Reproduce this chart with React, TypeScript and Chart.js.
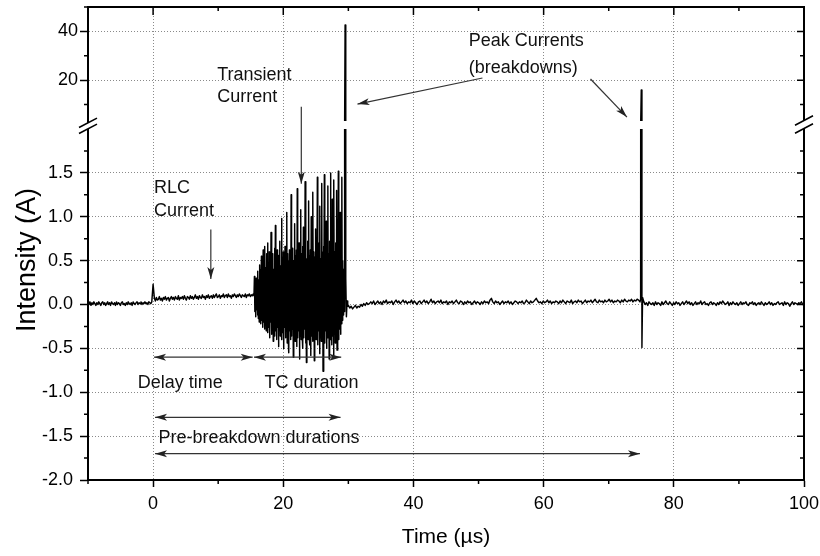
import { useEffect, useRef } from 'react';
import { Chart, registerables } from 'chart.js';

Chart.register(...registerables);

const FONT = '"Liberation Sans", Arial, Helvetica, sans-serif';

// ---------- axes ----------
const X_MIN = -10;
const X_MAX = 100;
const xTicks = [-10, 0, 10, 20, 30, 40, 50, 60, 70, 80, 90, 100];
const xLabels = [0, 20, 40, 60, 80, 100];
const xGrid = [0, 20, 40, 60, 80];

const LOWER_MIN = -2;
const LOWER_MAX = 2;
const lowerTicks = [-2, -1.75, -1.5, -1.25, -1, -0.75, -0.5, -0.25, 0, 0.25, 0.5, 0.75, 1, 1.25, 1.5, 1.75];
const lowerLabels = [-2, -1.5, -1, -0.5, 0, 0.5, 1, 1.5];
const lowerGrid = [-1.5, -1, -0.5, 0, 0.5, 1, 1.5];

const UPPER_MIN = 0;
const UPPER_MAX = 50;
const upperTicks = [10, 20, 30, 40, 50];
const upperLabels = [20, 40];
const upperGrid = [20, 40];
const UPPER_VISIBLE_FROM = 3.3; // values below are hidden in the axis break

// ---------- trace (current, A) ----------
const CENTI = 0.01;

// -10 .. -0.2 µs (hundredths of A)
const preTriggerCentiA = [2, 0, 3, -1, 2, 0, 3, 1, -1, 2, 0, 3, 1, -1, 2, 3, 0, 2, -1, 1, 3, 0, 2, -1, 3, 1, 0, 2, -1, 3, 0, 2, 1, -1, 2, 3, 0, 1, -1, 2, 0, 3, 1, 0, 2, -1, 3, 1, 0, 2, 3, 0, 2, 1, 3, 0, 2, 1, 3, 1, 2, 0, 3, 2, 1, 3];

const triggerTimes = [0];
const triggerA = [0.23];

// 0.2 .. 15.4 µs  (RLC current)
const rlcCentiA = [7, 4, 8, 5, 6, 9, 5, 7, 4, 8, 6, 9, 5, 7, 8, 4, 7, 9, 6, 8, 5, 9, 7, 6, 10, 5, 8, 7, 9, 6, 10, 7, 5, 9, 8, 6, 10, 7, 9, 6, 8, 11, 7, 9, 6, 10, 8, 7, 11, 8, 9, 6, 10, 8, 11, 7, 9, 10, 7, 11, 8, 10, 12, 8, 9, 11, 7, 10, 9, 12, 8, 10, 11, 8, 12, 9, 10, 7, 11, 9, 12, 10, 8, 11, 9, 12, 10, 8, 11, 10, 9, 12, 8, 11, 10, 12, 9, 11, 10, 12];

// 15.5 .. 29.4 µs  (transient current)
const transientCentiA = [
  10, 32, -8, 26, -14, 30, -6, 22, -12, 38, -16, 28, -20, 45, -10, 40, -22, 55, -18, 36, -26, 62, -20, 48, -28, 66, -24, 42, -30, 58,
  -22, 70, -32, 48, -26, 60, -38, 44, -20, 82, -34, 52, -28, 58, -42, 40, -24, 64, -36, 90, -30, 50, -40, 62, -26, 46, -48, 56, -30, 72, -36, 44, -28, 98, -40, 54, -32, 60, -50, 48, -26, 66, -38, 52, -30, 105, -44, 58, -34, 50, -55, 62,
  -30, 46, -40, 125, -36, 58, -28, 64, -60, 50, -34, 92, -42, 56, -30, 62, -48, 132, -38, 52, -30, 70, -62, 48, -36, 108, -40, 58, -32, 66, -50, 88, -38, 54, -28, 140, -44, 60, -66, 52, -34, 72, -40, 118, -30, 56, -46, 62, -58, 100, -36, 50, -42, 128, -32, 60, -64, 54, -38, 86,
  -40, 58, -34, 145, -46, 62, -30, 70, -56, 112, -38, 52, -42, 138, -32, 60, -76, 66, -36, 148, -44, 54, -30, 95, -50, 62, -38, 135, -34, 58, -62, 72, -40, 150, -30, 64, -46, 120, -36, 56, -58, 142, -32, 60, -44, 70, -38, 130, -52, 62, -30, 152, -40, 58, -28, 105, -34, 60, -22, 145, -18, 50, -12, 40, -8, 30,
];

// first breakdown
const peak1Times = [29.45, 29.5, 29.6, 29.7, 29.8, 29.9];
const peak1A = [0.6, 42.6, 0.3, -0.14, 0.04, -0.02];

// 30.0 .. 74.8 µs
const postCentiA = [
  -1, -4, -2, -5, -3, -1, -4, -2, -3, 0, -2, 1, -1, 2, 0, 1,
  3, 1, 4, 0, 2, 4, 1, 3, 0, 4, 2, 5, 1, 3, 2, 4, 0, 3, 5, 2, 4, 1, 3, 5, 2, 4, 1, 3, 2, 5, 1, 4, 2, 0, 3, 4, 1, 3, 5, 2, 4, 1, 3, 6, 2, 4, 1, 3, 4, 2, 5, 1, 3, 2, 4, 0, 3, 2, 4, 1, 3, 5, 2, 1, 4, 3, 0, 3, 1, 4, 2, 3, 0, 2, 4, 1, 3, 2, 0, 3, 1, 4, 2, 3, 1, 5, 7, 3, 1, 4, 2, 3, 0, 2, 4, 1, 3, 2, 4, 1, 3, 0, 2, 4, 3, 1, 3, 2, 4, 1, 2, 5, 3, 1, 4, 2, 3, 5, 7, 4, 2, 3, 1, 4, 2, 3, 5, 2, 4, 1, 3, 2, 4, 3, 1, 4, 2, 5, 3, 1, 4, 3, 2, 5, 1, 3, 4, 2, 5, 3, 4, 1, 3, 5, 2, 4, 3, 5, 2, 4, 6, 3, 2, 5, 3, 4, 2, 5, 3, 4, 6, 3, 5, 2, 4, 3, 5, 4, 2, 5, 3, 6, 4, 3, 5, 4, 6, 3, 5, 4, 6, 5, 3,
];

// second breakdown
const peak2Times = [74.9, 75.0, 75.1, 75.2];
const peak2A = [0.06, 16.0, -0.49, 0.08];

// 75.4 .. 100 µs
const tailCentiA = [3, 0, 2, -1, 3, 1, 0, 2, -1, 3, 0, 2, 1, -1, 3, 0, 2, 4, 1, 0, 3, 1, -1, 2, 0, 3, 1, 2, -1, 1, 3, 0, 2, 4, 1, 3, 0, 2, -1, 1, 3, 0, 2, 1, 4, 0, 2, 3, 0, 1, -1, 2, 3, 0, 2, 1, -1, 2, 0, 3, 1, 4, 2, 0, 1, 3, -1, 2, 0, 3, 1, 0, 2, -1, 1, 3, 0, 2, 1, 3, 0, -1, 2, 1, 3, 0, 2, -1, 1, 2, 0, 3, 1, -1, 2, 0, 1, 3, 0, 2, -1, 1, 0, 2, 3, 0, 1, 2, -1, 3, 0, 2, 1, -2, 1, 3, 0, 2, 1, 0, 2, 1, 3, 0, 1];

// ---------- annotations ----------
type AxisId = 'y' | 'y2';
const noteTexts: { text: string; t: number; axis: AxisId; v: number }[] = [
  { text: 'RLC', t: 0.15, axis: 'y', v: 1.275 },
  { text: 'Current', t: 0.15, axis: 'y', v: 1.01 },
  { text: 'Transient', t: 9.85, axis: 'y2', v: 20.1 },
  { text: 'Current', t: 9.85, axis: 'y2', v: 11.2 },
  { text: 'Peak Currents', t: 48.5, axis: 'y2', v: 34.0 },
  { text: '(breakdowns)', t: 48.5, axis: 'y2', v: 23.0 },
  { text: 'Delay time', t: -2.35, axis: 'y', v: -0.95 },
  { text: 'TC duration', t: 17.1, axis: 'y', v: -0.95 },
  { text: 'Pre-breakdown durations', t: 0.82, axis: 'y', v: -1.575 },
];

const noteArrows: { t0: number; a0: AxisId; v0: number; t1: number; a1: AxisId; v1: number; both: boolean }[] = [
  { t0: 8.87, a0: 'y', v0: 0.854, t1: 8.87, a1: 'y', v1: 0.29, both: false },
  { t0: 22.77, a0: 'y2', v0: 9.1, t1: 22.77, a1: 'y', v1: 1.375, both: false },
  { t0: 50.6, a0: 'y2', v0: 20.9, t1: 31.4, a1: 'y2', v1: 10.2, both: false },
  { t0: 67.2, a0: 'y2', v0: 20.5, t1: 72.8, a1: 'y2', v1: 4.9, both: false },
  { t0: 0.15, a0: 'y', v0: -0.6, t1: 15.3, a1: 'y', v1: -0.6, both: true },
  { t0: 15.5, a0: 'y', v0: -0.6, t1: 28.9, a1: 'y', v1: -0.6, both: true },
  { t0: 0.3, a0: 'y', v0: -1.286, t1: 28.8, a1: 'y', v1: -1.286, both: true },
  { t0: 0.3, a0: 'y', v0: -1.7, t1: 74.8, a1: 'y', v1: -1.7, both: true },
];

// ---------- helpers ----------
type Pt = { x: number; y: number };
function sampled(t0: number, t1: number, values: number[], unit: number): Pt[] {
  const n = values.length;
  return values.map((v, i) => ({ x: n > 1 ? t0 + ((t1 - t0) * i) / (n - 1) : t0, y: v * unit }));
}
function paired(times: number[], values: number[]): Pt[] {
  return times.map((t, i) => ({ x: t, y: values[i] }));
}

const trace: Pt[] = [
  ...sampled(-10, -0.2, preTriggerCentiA, CENTI),
  ...paired(triggerTimes, triggerA),
  ...sampled(0.2, 15.4, rlcCentiA, CENTI),
  ...sampled(15.5, 29.4, transientCentiA, CENTI),
  ...paired(peak1Times, peak1A),
  ...sampled(30.0, 74.8, postCentiA, CENTI),
  ...paired(peak2Times, peak2A),
  ...sampled(75.4, 100, tailCentiA, CENTI),
];

const GRID = '#8a8a8a';
const CLEAR = 'rgba(0,0,0,0)';
const INK = '#000';

const segmentClip = {
  id: 'segmentClip',
  beforeDatasetDraw(chart: any, args: any) {
    const ds = chart.data.datasets[args.index];
    const ys = chart.scales[ds.yAxisID];
    const { left, right } = chart.chartArea;
    let top: number;
    let bottom: number;
    if (ds.yAxisID === 'y2') {
      top = ys.top;
      bottom = ys.getPixelForValue(UPPER_VISIBLE_FROM);
    } else {
      top = ys.getPixelForValue(LOWER_MAX);
      bottom = ys.bottom;
    }
    const ctx = chart.ctx;
    ctx.save();
    ctx.beginPath();
    ctx.rect(left, top, right - left, bottom - top);
    ctx.clip();
  },
  afterDatasetDraw(chart: any) {
    chart.ctx.restore();
  },
};

function arrowHead(ctx: CanvasRenderingContext2D, x: number, y: number, ang: number) {
  const len = 12;
  const half = 3.5;
  const notch = 3;
  ctx.save();
  ctx.translate(x, y);
  ctx.rotate(ang);
  ctx.beginPath();
  ctx.moveTo(0, 0);
  ctx.lineTo(-len, -half);
  ctx.lineTo(-len + notch, 0);
  ctx.lineTo(-len, half);
  ctx.closePath();
  ctx.fill();
  ctx.restore();
}

const decorations = {
  id: 'decorations',
  afterDraw(chart: any) {
    const ctx: CanvasRenderingContext2D = chart.ctx;
    const { left, right, top, bottom } = chart.chartArea;
    const sx = chart.scales.x;
    const sy = chart.scales.y;
    const sy2 = chart.scales.y2;
    ctx.save();
    ctx.strokeStyle = INK;
    ctx.lineCap = 'butt';

    // frame (top & right)
    ctx.lineWidth = 2;
    ctx.beginPath();
    ctx.moveTo(left - 1, top);
    ctx.lineTo(right, top);
    ctx.lineTo(right, bottom + 1);
    ctx.stroke();

    // ticks
    ctx.lineWidth = 1.5;
    ctx.beginPath();
    for (const v of xTicks) {
      const px = sx.getPixelForValue(v);
      const major = xLabels.includes(v);
      ctx.moveTo(px, top);
      ctx.lineTo(px, top + (major ? 8 : 4));
      if (!major) {
        ctx.moveTo(px, bottom);
        ctx.lineTo(px, bottom + 4);
      }
    }
    const yAll: [any, number, boolean][] = [
      ...lowerTicks.map((v) => [sy, v, lowerLabels.includes(v)] as [any, number, boolean]),
      ...upperTicks.map((v) => [sy2, v, upperLabels.includes(v)] as [any, number, boolean]),
    ];
    for (const [s, v, major] of yAll) {
      const py = s.getPixelForValue(v);
      ctx.moveTo(right, py);
      ctx.lineTo(right - (major ? 7 : 4), py);
      if (!major) {
        ctx.moveTo(left, py);
        ctx.lineTo(left - 4, py);
      }
    }
    ctx.stroke();

    // axis breaks
    const boundary = sy.top;
    const breaks: [number, number, number][] = [
      [left, boundary - 3.2, 6],
      [right, boundary - 4.5, 8],
    ];
    for (const [cx, cy, d] of breaks) {
      const hx = 9;
      const k = 0.52;
      ctx.fillStyle = '#fff';
      ctx.beginPath();
      ctx.moveTo(cx - hx, cy + d / 2 + hx * k);
      ctx.lineTo(cx + hx, cy + d / 2 - hx * k);
      ctx.lineTo(cx + hx, cy - d / 2 - hx * k);
      ctx.lineTo(cx - hx, cy - d / 2 + hx * k);
      ctx.closePath();
      ctx.fill();
      ctx.lineWidth = 1.6;
      ctx.beginPath();
      ctx.moveTo(cx - hx, cy + d / 2 + hx * k);
      ctx.lineTo(cx + hx, cy + d / 2 - hx * k);
      ctx.moveTo(cx - hx, cy - d / 2 + hx * k);
      ctx.lineTo(cx + hx, cy - d / 2 - hx * k);
      ctx.stroke();
    }

    // arrows
    ctx.strokeStyle = '#333';
    ctx.fillStyle = '#222';
    ctx.lineWidth = 1.2;
    for (const a of noteArrows) {
      const x0 = sx.getPixelForValue(a.t0);
      const y0 = chart.scales[a.a0].getPixelForValue(a.v0);
      const x1 = sx.getPixelForValue(a.t1);
      const y1 = chart.scales[a.a1].getPixelForValue(a.v1);
      ctx.beginPath();
      ctx.moveTo(x0, y0);
      ctx.lineTo(x1, y1);
      ctx.stroke();
      const ang = Math.atan2(y1 - y0, x1 - x0);
      arrowHead(ctx, x1, y1, ang);
      if (a.both) arrowHead(ctx, x0, y0, ang + Math.PI);
    }

    // annotation texts
    ctx.fillStyle = '#111';
    ctx.font = `18px ${FONT}`;
    ctx.textAlign = 'left';
    ctx.textBaseline = 'alphabetic';
    for (const n of noteTexts) {
      ctx.fillText(n.text, sx.getPixelForValue(n.t), chart.scales[n.axis].getPixelForValue(n.v));
    }

    // y axis title
    ctx.save();
    ctx.font = `27px ${FONT}`;
    ctx.fillStyle = '#000';
    ctx.textAlign = 'center';
    ctx.translate(35, (top + bottom) / 2 + 16.5);
    ctx.rotate(-Math.PI / 2);
    ctx.fillText('Intensity (A)', 0, 0);
    ctx.restore();

    ctx.restore();
  },
};

export default function App() {
  const ref = useRef<HTMLCanvasElement>(null);

  useEffect(() => {
    const canvas = ref.current;
    if (!canvas) return;

    const lineStyle = {
      borderColor: '#000',
      borderWidth: 1.45,
      borderJoinStyle: 'round',
      pointRadius: 0,
      tension: 0,
      fill: false,
    };

    const tickFont = { family: FONT, size: 18 };

    const chart = new Chart(canvas, {
      type: 'line',
      data: {
        datasets: [
          { ...lineStyle, data: trace, xAxisID: 'x', yAxisID: 'y' },
          { ...lineStyle, data: trace, xAxisID: 'x', yAxisID: 'y2' },
        ],
      },
      options: {
        animation: false,
        responsive: false,
        events: [],
        layout: { padding: { left: 0, top: 7, right: 16, bottom: 0 } },
        plugins: { legend: { display: false }, tooltip: { enabled: false } },
        scales: {
          x: {
            type: 'linear',
            position: 'bottom',
            min: X_MIN,
            max: X_MAX,
            afterBuildTicks: (s: any) => {
              s.ticks = xTicks.map((value) => ({ value }));
            },
            afterFit: (s: any) => {
              s.height = 76;
              s.paddingLeft = 0;
              s.paddingRight = 0;
            },
            ticks: {
              autoSkip: false,
              maxRotation: 0,
              padding: 6,
              color: '#000',
              font: tickFont,
              callback: (v: any) => (xLabels.includes(v) ? String(v) : ''),
            },
            grid: {
              color: (c: any) => (c.tick && xGrid.includes(c.tick.value) ? GRID : CLEAR),
              tickColor: (c: any) => (c.tick && xLabels.includes(c.tick.value) ? INK : CLEAR),
              lineWidth: 1,
              tickWidth: 1.5,
              tickLength: 7,
            },
            border: { display: true, color: INK, width: 2, dash: [1, 2] },
            title: {
              display: true,
              text: 'Time (µs)',
              color: '#000',
              font: { family: FONT, size: 21 },
              padding: { top: 0, bottom: 6 },
            },
          },
          y: {
            type: 'linear',
            position: 'left',
            stack: 'amp',
            stackWeight: 351,
            weight: 1,
            min: LOWER_MIN,
            max: LOWER_MAX,
            afterBuildTicks: (s: any) => {
              s.ticks = lowerTicks.map((value) => ({ value }));
            },
            afterFit: (s: any) => {
              s.width = 88;
              s.paddingTop = 0;
              s.paddingBottom = 0;
            },
            ticks: {
              autoSkip: false,
              padding: 7,
              color: '#000',
              font: tickFont,
              callback: (v: any) => (lowerLabels.includes(v) ? Number(v).toFixed(1) : ''),
            },
            grid: {
              color: (c: any) => (c.tick && lowerGrid.includes(c.tick.value) ? GRID : CLEAR),
              tickColor: (c: any) => (c.tick && lowerLabels.includes(c.tick.value) ? INK : CLEAR),
              lineWidth: 1,
              tickWidth: 1.5,
              tickLength: 8,
            },
            border: { display: true, color: INK, width: 2, dash: [1, 2] },
          },
          y2: {
            type: 'linear',
            position: 'left',
            stack: 'amp',
            stackWeight: 122,
            weight: 2,
            min: UPPER_MIN,
            max: UPPER_MAX,
            afterBuildTicks: (s: any) => {
              s.ticks = upperTicks.map((value) => ({ value }));
            },
            afterFit: (s: any) => {
              s.width = 88;
              s.paddingTop = 0;
              s.paddingBottom = 0;
            },
            ticks: {
              autoSkip: false,
              padding: 2,
              color: '#000',
              font: tickFont,
              callback: (v: any) => (upperLabels.includes(v) ? String(v) : ''),
            },
            grid: {
              color: (c: any) => (c.tick && upperGrid.includes(c.tick.value) ? GRID : CLEAR),
              tickColor: (c: any) => (c.tick && upperLabels.includes(c.tick.value) ? INK : CLEAR),
              lineWidth: 1,
              tickWidth: 1.5,
              tickLength: 8,
            },
            border: { display: true, color: INK, width: 2, dash: [1, 2] },
          },
        },
      } as any,
      plugins: [segmentClip, decorations],
    });

    return () => chart.destroy();
  }, []);

  return (
    <div style={{ position: 'absolute', left: 0, top: 0, width: 820, height: 556, background: '#fff' }}>
      <canvas ref={ref} width={820} height={556} style={{ display: 'block', width: 820, height: 556 }} />
    </div>
  );
}
